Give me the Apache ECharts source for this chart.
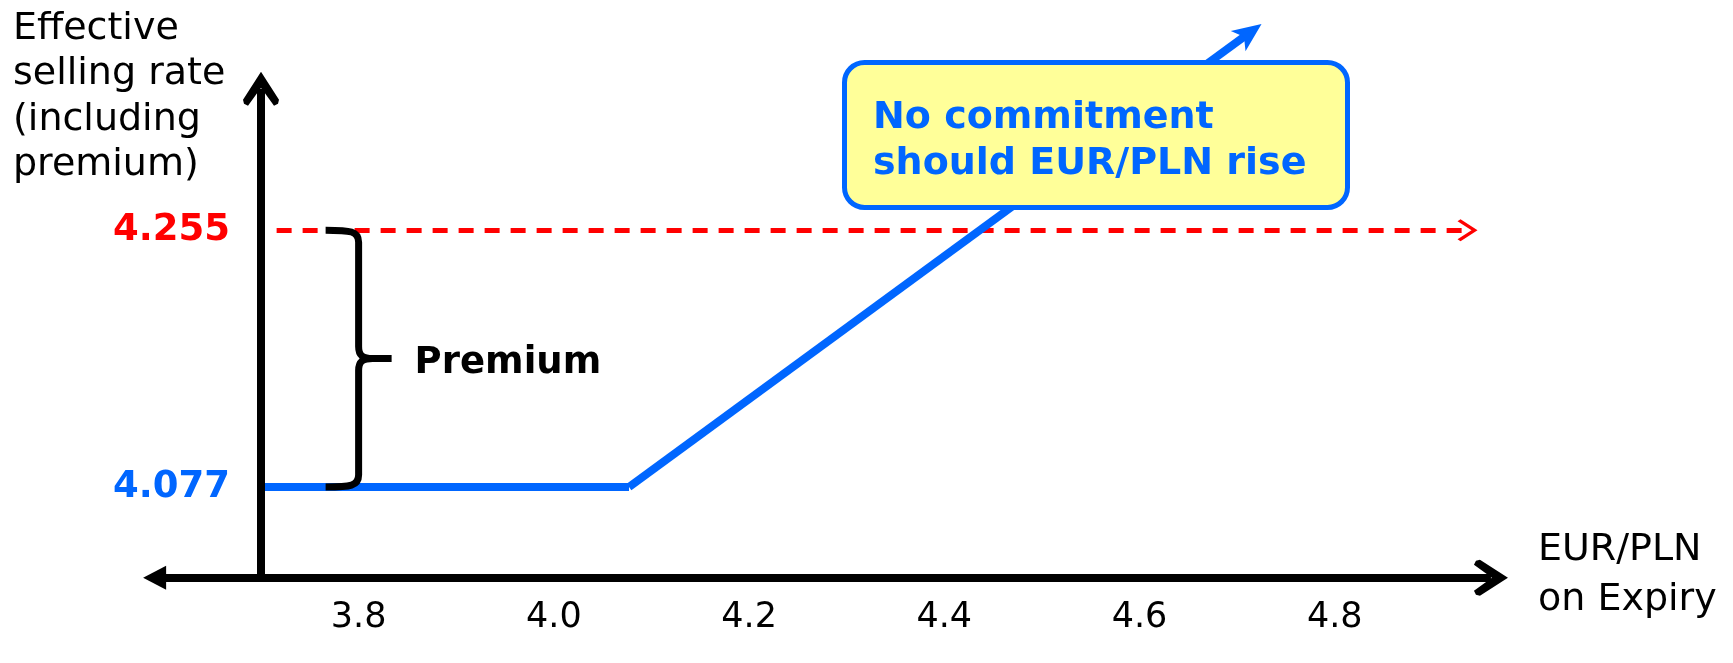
<!DOCTYPE html>
<html>
<head>
<meta charset="utf-8">
<title>Effective selling rate vs EUR/PLN on expiry</title>
<script src="https://cdn.jsdelivr.net/npm/echarts@6/dist/echarts.min.js"></script>
<style>
  html, body { margin: 0; padding: 0; background: #ffffff; }
  #chart { width: 1733px; height: 663px; }
</style>
</head>
<body>
<div id="chart"></div>
<script>
// EUR/PLN rate on expiry: tick labels along the horizontal axis
const xTicks = [3.8, 4.0, 4.2, 4.4, 4.6, 4.8];
// Rate levels marked on the vertical axis: strike (4.077) and strike + premium (4.255)
const rateLevels = [4.077, 4.255];

// Effective selling rate: flat at the strike, then rising with the spot rate
const payoffX = [3.7, 4.077, 4.713];
const payoffY = [4.077, 4.077, 4.392];

// Dashed reference level (strike + premium)
const breakevenX = [3.716, 4.936];
const breakevenY = 4.255;

// Arrowed axis lines, in data units
const xAxisSpan = [3.591, 4.960];
const axisBaseY = 4.014;
const yAxisX = 3.7;
const yAxisSpan = [4.014, 4.353];

// Curly brace showing the premium: [x, from, to]
const premiumBrace = [3.8, 4.077, 4.255];
const braceLabel = 'Premium';

const yTitle = 'Effective\nselling rate\n(including\npremium)';
const xTitle = 'EUR/PLN\non Expiry';
const calloutText = 'No commitment\nshould EUR/PLN rise';

const BLUE = '#0066ff';
const RED = '#ff0000';
const BLACK = '#000000';
const FONT = '"DejaVu Sans", Verdana, sans-serif';

// Open arrow heads (pointing up in symbol space; rotated along the line)
const chevron = 'path://M18,0 L36,28 L35,32 L31,34 L18,16 L5,34 L1,32 L0,28 Z';
const thinChevron = 'path://M11,0 L22,17 L20,20 L11,6 L2,20 L0,17 Z';
// Notched solid arrow head
const solidArrow = 'path://M12,0 L24,28 L12,21 L0,28 Z';

const chart = echarts.init(document.getElementById('chart'), null, { renderer: 'canvas' });

const payoffSegments = payoffX.slice(1).map(function (x, i) {
  const last = i === payoffX.length - 2;
  return {
    coords: [[payoffX[i], payoffY[i]], [x, payoffY[i + 1]]],
    symbol: ['none', last ? solidArrow : 'none'],
    symbolSize: [[1, 1], [25, 29]]
  };
});

const option = {
  animation: false,
  backgroundColor: '#ffffff',
  title: [
    {
      text: yTitle,
      left: 13,
      top: 6,
      padding: 0,
      textStyle: { fontFamily: FONT, fontSize: 38, fontWeight: 'normal', color: BLACK, lineHeight: 45.5 }
    },
    {
      text: xTitle,
      left: 1538,
      top: 525,
      padding: 0,
      textStyle: { fontFamily: FONT, fontSize: 38, fontWeight: 'normal', color: BLACK, lineHeight: 50 }
    }
  ],
  grid: {
    left: 261,
    right: 203,
    top: 21,
    bottom: 65,
    containLabel: false,
    outerBoundsMode: 'none'
  },
  xAxis: {
    type: 'value',
    min: 3.7,
    max: 5.0,
    axisLine: { show: false },
    axisTick: { show: false },
    splitLine: { show: false },
    axisLabel: {
      customValues: xTicks,
      formatter: function (v) { return v.toFixed(1); },
      fontFamily: FONT,
      fontSize: 35,
      lineHeight: 36,
      color: BLACK,
      margin: 2
    }
  },
  yAxis: {
    type: 'value',
    min: 4.0,
    max: 4.4,
    axisLine: { show: false },
    axisTick: { show: false },
    splitLine: { show: false },
    axisLabel: {
      customValues: rateLevels,
      margin: 31,
      formatter: function (v) {
        return (v === rateLevels[1] ? '{r|' : '{b|') + v.toFixed(3) + '}';
      },
      rich: {
        r: { color: RED, fontFamily: FONT, fontSize: 37, fontWeight: 'bold' },
        b: { color: BLUE, fontFamily: FONT, fontSize: 37, fontWeight: 'bold' }
      }
    }
  },
  series: [
    {
      name: 'Strike + premium',
      type: 'lines',
      coordinateSystem: 'cartesian2d',
      clip: false,
      silent: true,
      z: 2,
      lineStyle: { color: RED, width: 5, type: [15, 11], opacity: 1, curveness: 0 },
      data: [{
        coords: [[breakevenX[0], breakevenY], [breakevenX[1], breakevenY]],
        symbol: ['none', thinChevron],
        symbolSize: [[1, 1], [22, 20]]
      }]
    },
    {
      name: 'Effective selling rate',
      type: 'lines',
      coordinateSystem: 'cartesian2d',
      clip: false,
      silent: true,
      z: 3,
      lineStyle: { color: BLUE, width: 8, type: 'solid', opacity: 1, curveness: 0 },
      data: payoffSegments
    },
    {
      name: 'Axes',
      type: 'lines',
      coordinateSystem: 'cartesian2d',
      clip: false,
      silent: true,
      z: 4,
      lineStyle: { color: BLACK, width: 8, type: 'solid', opacity: 1, curveness: 0 },
      data: [
        {
          coords: [[xAxisSpan[0], axisBaseY], [xAxisSpan[1], axisBaseY]],
          symbol: ['triangle', chevron],
          symbolSize: [[24, 23], [36, 34]]
        },
        {
          coords: [[yAxisX, yAxisSpan[0]], [yAxisX, yAxisSpan[1]]],
          symbol: ['none', chevron],
          symbolSize: [[1, 1], [36, 34]]
        }
      ]
    },
    {
      name: 'Premium',
      type: 'custom',
      coordinateSystem: 'cartesian2d',
      silent: true,
      z: 5,
      data: [premiumBrace],
      renderItem: function (params, api) {
        const topPt = api.coord([api.value(0), api.value(2)]);
        const botPt = api.coord([api.value(0), api.value(1)]);
        const sx = topPt[0];
        const t = topPt[1];
        const b = botPt[1];
        const m = (t + b) / 2;
        const w = 33;
        const r = 12;
        const d =
          'M' + (sx - w) + ',' + t +
          ' C' + (sx - 8) + ',' + t + ' ' + sx + ',' + (t + 1) + ' ' + sx + ',' + (t + r) +
          ' L' + sx + ',' + (m - r) +
          ' C' + sx + ',' + (m - 3) + ' ' + (sx + 4) + ',' + m + ' ' + (sx + 14) + ',' + m +
          ' L' + (sx + w) + ',' + m +
          ' M' + (sx + 14) + ',' + m +
          ' C' + (sx + 4) + ',' + m + ' ' + sx + ',' + (m + 3) + ' ' + sx + ',' + (m + r) +
          ' L' + sx + ',' + (b - r) +
          ' C' + sx + ',' + (b - 1) + ' ' + (sx - 8) + ',' + b + ' ' + (sx - w) + ',' + b;
        return {
          type: 'group',
          children: [
            {
              type: 'path',
              shape: { pathData: d },
              style: { fill: 'none', stroke: BLACK, lineWidth: 7, lineJoin: 'round', lineCap: 'butt' }
            },
            {
              type: 'text',
              style: {
                text: braceLabel,
                x: sx + 56,
                y: m + 5,
                fill: BLACK,
                font: 'bold 37px ' + FONT,
                align: 'left',
                verticalAlign: 'middle'
              }
            }
          ]
        };
      }
    }
  ],
  graphic: [
    {
      type: 'group',
      z: 100,
      children: [
        {
          type: 'rect',
          z: 100,
          shape: { x: 844.5, y: 62.5, width: 503, height: 145, r: 20 },
          style: { fill: '#ffff99', stroke: BLUE, lineWidth: 5 }
        },
        {
          type: 'text',
          z: 101,
          style: {
            text: calloutText,
            x: 873,
            y: 141,
            fill: BLUE,
            font: 'bold 38px ' + FONT,
            lineHeight: 46,
            align: 'left',
            verticalAlign: 'middle'
          }
        }
      ]
    }
  ]
};

chart.setOption(option);
</script>
</body>
</html>
